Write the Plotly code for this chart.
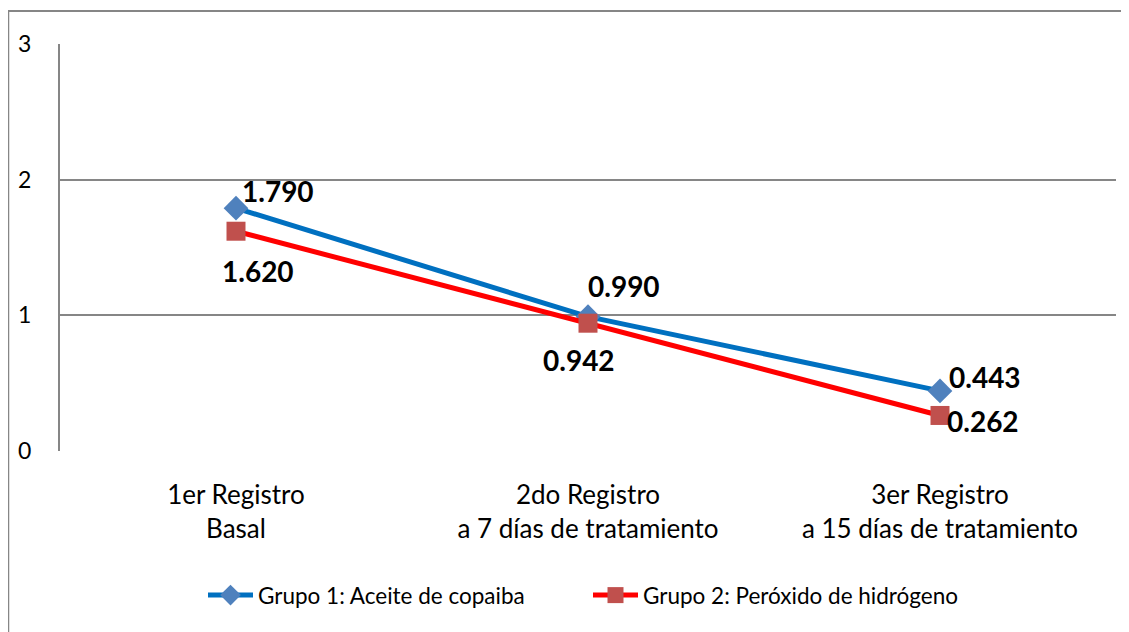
import plotly.graph_objects as go

categories = ["1er Registro<br>Basal",
              "2do Registro<br>a 7 días de tratamiento",
              "3er Registro<br>a 15 días de tratamiento"]
grupo1 = [1.790, 0.990, 0.443]
grupo2 = [1.620, 0.942, 0.262]
name1 = "Grupo 1: Aceite de copaiba"
name2 = "Grupo 2: Peróxido de hidrógeno"

# pixel offsets of the value labels (dx, dy up)
shift1 = [(42, 17), (36, 31), (45, 14)]
shift2 = [(22, -40), (-9, -37), (43, -6)]

FONT = "Lato, sans-serif"

fig = go.Figure()

fig.add_trace(go.Scatter(
    x=categories, y=grupo1, name=name1,
    mode="lines+markers",
    line=dict(color="#0070C0", width=5),
    marker=dict(symbol="diamond", size=19, color="#4F81BD"),
))

fig.add_trace(go.Scatter(
    x=categories, y=grupo2, name=name2,
    mode="lines+markers",
    line=dict(color="#FF0000", width=5),
    marker=dict(symbol="square", size=19, color="#C0504D"),
))

for vals, shifts in [(grupo1, shift1), (grupo2, shift2)]:
    for c, v, (dx, dy) in zip(categories, vals, shifts):
        fig.add_annotation(x=c, y=v, text=f"<b>{v:.3f}</b>", showarrow=False,
                           xshift=dx, yshift=dy,
                           font=dict(family=FONT, size=28, color="black"))

# page body adds an 8px margin, so the figure is 8px smaller
fig.update_layout(
    width=1121, height=624,
    margin=dict(l=52, r=13, t=36, b=181),
    paper_bgcolor="white", plot_bgcolor="white",
    font=dict(family=FONT, size=26, color="black"),
    showlegend=True,
    legend=dict(orientation="h", x=0.5, xanchor="center", y=-0.355, yanchor="middle",
                font=dict(size=22.5), entrywidth=325, itemwidth=45),
    shapes=[dict(type="path", xref="paper", yref="paper",
                 path="M -0.049,-0.5 L -0.049,1.081 L 1.05,1.081",
                 line=dict(color="#868686", width=2))],
)

fig.update_xaxes(range=[-0.5, 2.5], showgrid=False, showline=False, ticks="",
                 zeroline=False, automargin=False, ticklabelstandoff=26,
                 tickfont=dict(size=26))
fig.update_yaxes(range=[0, 3], dtick=1, showgrid=True, gridcolor="#868686", gridwidth=2,
                 showline=True, linecolor="#868686", linewidth=2, zeroline=False,
                 ticks="", ticklabelstandoff=22, automargin=False, tickfont=dict(size=23))

fig.write_html("out.html")
